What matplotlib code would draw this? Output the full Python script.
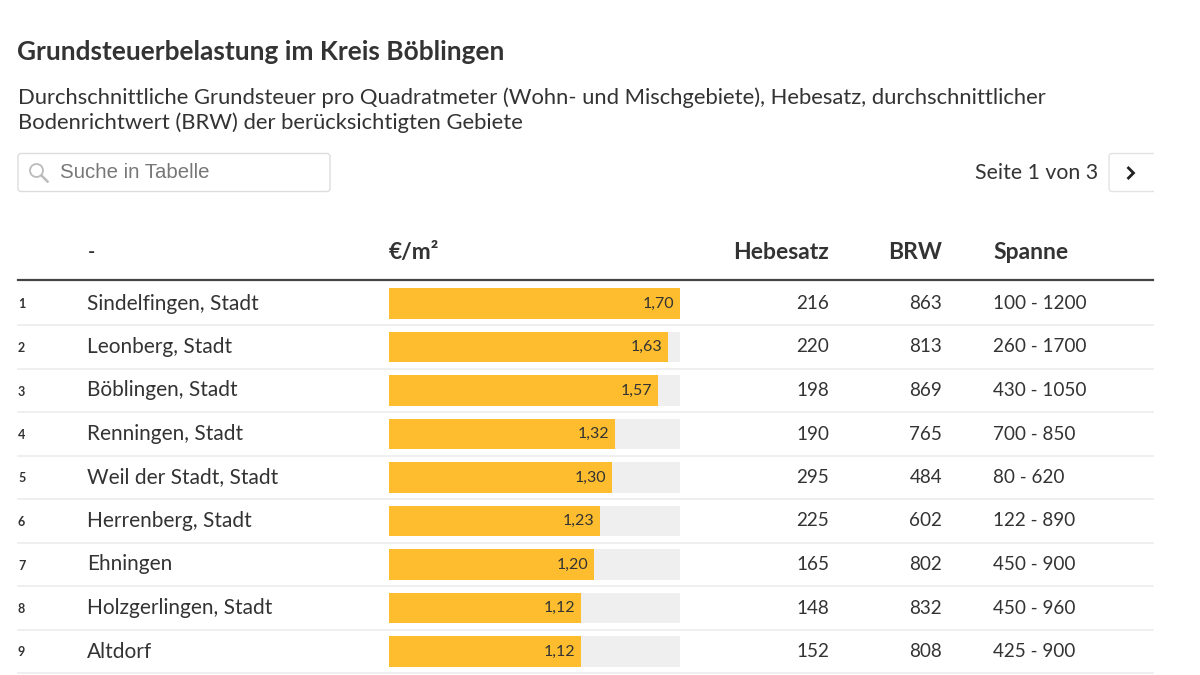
import matplotlib
matplotlib.use("Agg")
import matplotlib.pyplot as plt
from matplotlib.patches import FancyBboxPatch, Circle
from matplotlib.lines import Line2D

plt.rcParams['font.family'] = ['Lato', 'DejaVu Sans']

title = "Grundsteuerbelastung im Kreis Böblingen"
subtitle = ("Durchschnittliche Grundsteuer pro Quadratmeter (Wohn- und Mischgebiete), Hebesatz, durchschnittlicher\n"
            "Bodenrichtwert (BRW) der berücksichtigten Gebiete")
columns = ["-", "€/m²", "Hebesatz", "BRW", "Spanne"]
ranks = [1, 2, 3, 4, 5, 6, 7, 8, 9]
gemeinden = ["Sindelfingen, Stadt", "Leonberg, Stadt", "Böblingen, Stadt", "Renningen, Stadt",
             "Weil der Stadt, Stadt", "Herrenberg, Stadt", "Ehningen", "Holzgerlingen, Stadt", "Altdorf"]
euro_m2 = [1.70, 1.63, 1.57, 1.32, 1.30, 1.23, 1.20, 1.12, 1.12]
hebesatz = [216, 220, 198, 190, 295, 225, 165, 148, 152]
brw = [863, 813, 869, 765, 484, 602, 802, 832, 808]
spanne = ["100 - 1200", "260 - 1700", "430 - 1050", "700 - 850", "80 - 620",
          "122 - 890", "450 - 900", "450 - 960", "425 - 900"]

W, H = 1200, 675
fig = plt.figure(figsize=(12, 6.75), dpi=100)
fig.patch.set_facecolor("white")

# layout canvas in pixel coordinates
lay = fig.add_axes([0, 0, 1, 1])
lay.set_xlim(0, W)
lay.set_ylim(H, 0)
lay.axis("off")

TXT = "#333333"
lay.text(17, 52, title, fontsize=18.9, fontweight="bold", color=TXT, va="center", ha="left")
lay.text(18, 110, subtitle, fontsize=15.8, color=TXT, va="center", ha="left", linespacing=1.25)

# search box
lay.add_patch(FancyBboxPatch((18, 153.5), 312, 38, boxstyle="round,pad=0,rounding_size=3",
                             fc="white", ec="#dddddd", lw=1))
lay.add_patch(Circle((36.5, 170.5), 6.5, fc="none", ec="#bbbbbb", lw=1.3))
lay.add_line(Line2D([41.5, 47.5], [175.5, 181.5], color="#bbbbbb", lw=1.8))
lay.text(60, 173, "Suche in Tabelle", fontsize=14.7, color="#777777", va="center", ha="left",
         family=["Liberation Sans", "DejaVu Sans"])

# pagination
lay.text(1098, 173, "Seite 1 von 3", fontsize=15.3, color=TXT, va="center", ha="right")
lay.add_patch(FancyBboxPatch((1109, 153.5), 60, 38, boxstyle="round,pad=0,rounding_size=3",
                             fc="white", ec="#e3e3e3", lw=1))
lay.add_line(Line2D([1127.5, 1133.5, 1127.5], [167, 173, 179], color="#222222", lw=2,
                    solid_joinstyle="miter", solid_capstyle="butt"))
lay.add_patch(plt.Rectangle((1154, 140), 46, 60, fc="white", ec="none"))

# header
hy = 252.5
hfs = 16.5
lay.text(88, hy, columns[0], fontsize=14, fontweight="bold", color=TXT, va="center", ha="left")
lay.text(389, hy, columns[1], fontsize=hfs, fontweight="bold", color=TXT, va="center", ha="left")
lay.text(829, hy, columns[2], fontsize=hfs, fontweight="bold", color=TXT, va="center", ha="right")
lay.text(942, hy, columns[3], fontsize=hfs, fontweight="bold", color=TXT, va="center", ha="right")
lay.text(993, hy, columns[4], fontsize=hfs, fontweight="bold", color=TXT, va="center", ha="left")
lay.add_line(Line2D([18, 1153], [280, 280], color="#444444", lw=1.6))

row0, step = 303.5, 43.5
for i in range(len(gemeinden)):
    y = row0 + i * step
    lay.text(18, y + 1, str(ranks[i]), fontsize=9, fontweight="bold", color=TXT, va="center", ha="left")
    lay.text(87, y, gemeinden[i], fontsize=15, color=TXT, va="center", ha="left")
    lay.text(829, y, str(hebesatz[i]), fontsize=13.6, color=TXT, va="center", ha="right")
    lay.text(942, y, str(brw[i]), fontsize=13.6, color=TXT, va="center", ha="right")
    lay.text(993, y, spanne[i], fontsize=13.6, color=TXT, va="center", ha="left")
    lay.add_line(Line2D([18, 1153], [y + step / 2, y + step / 2], color="#ececec", lw=1.2))

# bar axes aligned with the rows
x0, x1 = 389, 680
top = row0 - step / 2
bot = row0 + (len(gemeinden) - 0.5) * step
bax = fig.add_axes([x0 / W, 1 - bot / H, (x1 - x0) / W, (bot - top) / H])
bax.set_xlim(0, max(euro_m2))
bax.set_ylim(len(gemeinden) - 0.5, -0.5)
bax.axis("off")
ypos = list(range(len(gemeinden)))
bax.barh(ypos, [max(euro_m2)] * len(gemeinden), height=0.71, color="#efefef", lw=0)
bax.barh(ypos, euro_m2, height=0.71, color="#fdbd2e", lw=0)
for i, v in enumerate(euro_m2):
    bax.annotate(f"{v:.2f}".replace(".", ","), (v, i), xytext=(-4, 0), textcoords="offset points",
                 ha="right", va="center", fontsize=11.5, color="#333333")

fig.savefig("out.png", dpi=100, facecolor="white")
